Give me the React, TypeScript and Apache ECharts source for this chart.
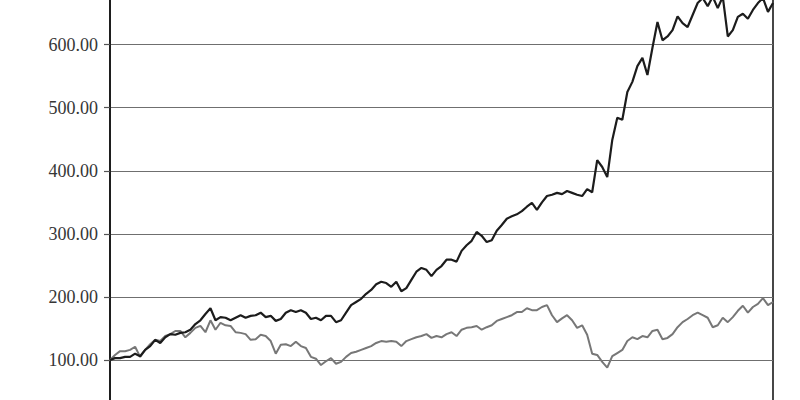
import React, { useEffect, useRef } from "react";
import * as echarts from "echarts";

const periods: string[] = Array.from({ length: 133 }, (_, i) => `W${i + 1}`);

const fundValues: number[] = [
  100, 103, 103, 105, 105, 110, 106, 116, 122, 132,
  127, 136, 141, 140, 143, 144, 148, 157, 163, 173,
  182, 163, 168, 167, 163, 167, 171, 167, 170, 171,
  175, 168, 170, 162, 165, 175, 179, 176, 179, 175,
  165, 167, 163, 170, 170, 160, 163, 175, 187, 192,
  197, 205, 211, 220, 224, 222, 216, 224, 209, 214,
  227, 240, 246, 243, 233, 243, 249, 259, 259, 256,
  273, 282, 289, 303, 297, 287, 290, 305, 314, 324,
  328, 331, 336, 343, 349, 338, 350, 360, 362, 365,
  363, 368, 365, 362, 360, 371, 366, 417, 406, 390,
  449, 484, 481, 525, 541, 566, 579, 552, 595, 636,
  607, 613, 623, 645, 634, 628, 647, 666, 674, 661,
  676, 658, 676, 613, 623, 644, 649, 641, 655, 666,
  674, 652, 666,
];

const indexValues: number[] = [
  100, 108, 114, 114, 116, 121, 105, 116, 125, 132,
  130, 138, 141, 146, 146, 136, 143, 151, 154, 144,
  163, 148, 159, 155, 154, 144, 143, 141, 132, 133,
  140, 138, 130, 110, 124, 125, 122, 129, 122, 119,
  105, 102, 92, 98, 103, 94, 97, 105, 111, 113,
  116, 119, 122, 127, 130, 129, 130, 129, 122, 130,
  133, 136, 138, 141, 135, 138, 136, 141, 144, 138,
  148, 151, 152, 154, 148, 152, 155, 162, 165, 168,
  171, 176, 176, 182, 179, 179, 184, 187, 171, 160,
  166, 171, 163, 151, 155, 140, 110, 108, 97, 88,
  106, 111, 116, 130, 136, 133, 138, 136, 146, 148,
  133, 135, 141, 152, 160, 165, 171, 175, 171, 167,
  152, 155, 167, 160, 168, 178, 186, 175, 184, 189,
  198, 187, 192,
];

const yTicks = { min: 0, max: 700, interval: 100 };

export default function App() {
  const ref = useRef<HTMLDivElement>(null);
  useEffect(() => {
    if (!ref.current) return;
    const chart = echarts.init(ref.current, undefined, { renderer: "svg" });
    chart.setOption({
      animation: false,
      backgroundColor: "#ffffff",
      grid: {
        left: 110,
        right: 27,
        top: 11.6,
        bottom: 6.94,
        show: true,
        borderColor: "#1a1a1a",
        borderWidth: 1.6,
        containLabel: false,
        outerBoundsMode: "none",
      },
      xAxis: {
        type: "category",
        data: periods,
        boundaryGap: false,
        show: false,
      },
      yAxis: {
        type: "value",
        min: yTicks.min,
        max: yTicks.max,
        interval: yTicks.interval,
        axisLine: { show: true, lineStyle: { color: "#1a1a1a", width: 1.8 } },
        axisTick: { show: true, length: 6, lineStyle: { color: "#555", width: 1.2 } },
        splitLine: { show: true, lineStyle: { color: "#6f6f6f", width: 1.2 } },
        axisLabel: {
          margin: 12,
          showMinLabel: false,
          showMaxLabel: false,
          fontFamily: "Liberation Serif",
          fontSize: 18,
          color: "#363636",
          formatter: (v: number) => v.toFixed(2),
        },
      },
      series: [
        {
          name: "Index",
          type: "line",
          data: indexValues,
          showSymbol: false,
          lineStyle: { color: "#777777", width: 2 },
          z: 2,
        },
        {
          name: "Fund",
          type: "line",
          data: fundValues,
          showSymbol: false,
          lineStyle: { color: "#1c1c1c", width: 2.2 },
          z: 3,
        },
      ],
    });
    return () => chart.dispose();
  }, []);
  return (
    <div
      style={{
        position: "absolute",
        left: 0,
        top: 0,
        width: 800,
        height: 400,
        overflow: "hidden",
        background: "#ffffff",
      }}
    >
      <div
        ref={ref}
        style={{ position: "absolute", left: 0, top: -30, width: 800, height: 460 }}
      />
    </div>
  );
}
